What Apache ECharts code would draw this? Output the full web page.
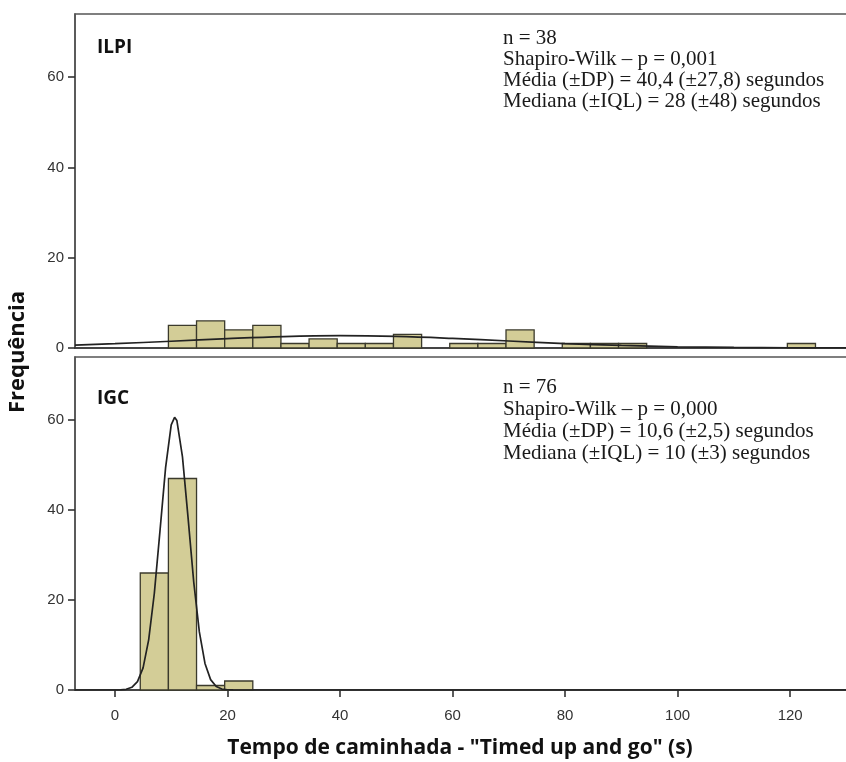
<!DOCTYPE html>
<html>
<head>
<meta charset="utf-8">
<script src="https://cdn.jsdelivr.net/npm/echarts@6/dist/echarts.min.js"></script>
<style>
html,body{margin:0;padding:0;background:#fff;overflow:hidden;}
#c{width:846px;height:762px;}
</style>
</head>
<body>
<div id="c"></div>
<script>
// ---- data ----
var xTicks = [0, 20, 40, 60, 80, 100, 120];
var yTicks = [0, 20, 40, 60];

// ILPI histogram (bin lower edge, bin upper edge, count)
var ilpiBinLo = [9.5, 14.5, 19.5, 24.5, 29.5, 34.5, 39.5, 44.5, 49.5, 59.5, 64.5, 69.5, 79.5, 84.5, 89.5, 119.5];
var ilpiBinHi = [14.5, 19.5, 24.5, 29.5, 34.5, 39.5, 44.5, 49.5, 54.5, 64.5, 69.5, 74.5, 84.5, 89.5, 94.5, 124.5];
var ilpiCounts = [5, 6, 4, 5, 1, 2, 1, 1, 3, 1, 1, 4, 1, 1, 1, 1];

// IGC histogram
var igcBinLo = [4.5, 9.5, 14.5, 19.5];
var igcBinHi = [9.5, 14.5, 19.5, 24.5];
var igcCounts = [26, 47, 1, 2];

// fitted normal curves
var ilpiCurveX = [-7.1, 0, 10, 20, 30, 40, 50, 60, 70, 80, 90, 100, 110, 120, 134];
var ilpiCurveY = [0.64, 0.95, 1.5, 2.08, 2.54, 2.73, 2.57, 2.13, 1.55, 0.99, 0.56, 0.27, 0.12, 0.05, 0.01];
var igcCurveX = [-7.1, 0, 1, 2, 3, 4, 5, 6, 7, 8, 9, 10, 10.6, 11, 12, 13, 14, 15, 16, 17, 18, 19, 20, 21, 22, 134];
var igcCurveY = [0, 0, 0.04, 0.16, 0.6, 1.86, 4.93, 11.2, 21.5, 35.3, 49.4, 58.9, 60.6, 59.9, 51.8, 38.2, 24.0, 12.9, 5.9, 2.3, 0.76, 0.21, 0.05, 0.01, 0, 0];

var ilpiStats = ["n = 38", "Shapiro-Wilk \u2013 p = 0,001", "M\u00e9dia (\u00b1DP) = 40,4 (\u00b127,8) segundos", "Mediana (\u00b1IQL) = 28 (\u00b148) segundos"];
var igcStats = ["n = 76", "Shapiro-Wilk \u2013 p = 0,000", "M\u00e9dia (\u00b1DP) = 10,6 (\u00b12,5) segundos", "Mediana (\u00b1IQL) = 10 (\u00b13) segundos"];

// ---- build ----
function zip3(a, b, c) { return a.map(function (v, i) { return [v, b[i], c[i]]; }); }
function zip2(a, b) { return a.map(function (v, i) { return [v, b[i]]; }); }

var BAR_FILL = '#d3cd97';
var BAR_EDGE = '#3b3a2c';
var AXIS_COL = '#555';
var TICK_FONT = '"Liberation Sans", Arial, sans-serif';

function renderBar(params, api) {
  var p0 = api.coord([api.value(0), api.value(2)]);
  var p1 = api.coord([api.value(1), 0]);
  return {
    type: 'rect',
    shape: { x: p0[0], y: p0[1], width: p1[0] - p0[0], height: p1[1] - p0[1] },
    style: { fill: BAR_FILL, stroke: BAR_EDGE, lineWidth: 1.3 }
  };
}

var XMIN = -7.1, XMAX = 133.3, YMAX = 74;

function xAxis(idx, showLabels) {
  return {
    type: 'value', gridIndex: idx, min: XMIN, max: XMAX,
    axisLine: { show: true, onZero: false, lineStyle: { color: '#333', width: 1.6 } },
    axisTick: { show: showLabels, length: 7, lineStyle: { color: '#333', width: 1.6 }, customValues: xTicks },
    axisLabel: { show: showLabels, customValues: xTicks, color: '#333', fontFamily: TICK_FONT, fontSize: 15, margin: 18 },
    splitLine: { show: false }
  };
}
function yAxis(idx) {
  return {
    type: 'value', gridIndex: idx, min: 0, max: YMAX,
    axisLine: { show: true, onZero: false, lineStyle: { color: AXIS_COL, width: 1.6 } },
    axisTick: { show: true, length: 7, lineStyle: { color: '#333', width: 1.6 }, customValues: yTicks },
    axisLabel: { customValues: yTicks, color: '#333', fontFamily: TICK_FONT, fontSize: 15, margin: 11 },
    splitLine: { show: false }
  };
}

function statTexts(lines, yStart, step) {
  return lines.map(function (t, i) {
    return {
      type: 'text', left: 503, top: yStart + i * step,
      style: { text: t, fill: '#1a1a1a', font: '21px "Liberation Serif", "Times New Roman", serif' }
    };
  });
}

var chart = echarts.init(document.getElementById('c'), null, { renderer: 'canvas' });
chart.setOption({
  animation: false,
  backgroundColor: '#fff',
  grid: [
    { left: 75, top: 14, width: 790, height: 334, outerBoundsMode: 'none', containLabel: false, show: true, borderColor: AXIS_COL, borderWidth: 1.6, backgroundColor: 'transparent' },
    { left: 75, top: 357, width: 790, height: 333, outerBoundsMode: 'none', containLabel: false, show: true, borderColor: AXIS_COL, borderWidth: 1.6, backgroundColor: 'transparent' }
  ],
  xAxis: [xAxis(0, false), xAxis(1, true)],
  yAxis: [yAxis(0), yAxis(1)],
  series: [
    { type: 'custom', xAxisIndex: 0, yAxisIndex: 0, renderItem: renderBar, data: zip3(ilpiBinLo, ilpiBinHi, ilpiCounts), encode: { x: [0, 1], y: 2 } },
    { type: 'line', xAxisIndex: 0, yAxisIndex: 0, data: zip2(ilpiCurveX, ilpiCurveY), smooth: 0.4, showSymbol: false, lineStyle: { color: '#222', width: 1.7 } },
    { type: 'custom', xAxisIndex: 1, yAxisIndex: 1, renderItem: renderBar, data: zip3(igcBinLo, igcBinHi, igcCounts), encode: { x: [0, 1], y: 2 } },
    { type: 'line', xAxisIndex: 1, yAxisIndex: 1, data: zip2(igcCurveX, igcCurveY), smooth: false, showSymbol: false, lineStyle: { color: '#222', width: 1.7 } }
  ],
  graphic: [
    { type: 'text', left: 97, top: 38, style: { text: 'ILPI', fill: '#111', font: 'bold 19px "Open Sans", sans-serif' } },
    { type: 'text', left: 97, top: 389, style: { text: 'IGC', fill: '#111', font: 'bold 19px "Open Sans", sans-serif' } },
    { type: 'text', x: 18, y: 352, rotation: Math.PI / 2, style: { text: 'Frequ\u00eancia', fill: '#111', font: 'bold 22px "Open Sans", sans-serif', align: 'center', verticalAlign: 'middle' } },
    { type: 'text', x: 460, y: 748, style: { text: 'Tempo de caminhada - "Timed up and go" (s)', fill: '#111', font: 'bold 21px "Open Sans", sans-serif', align: 'center', verticalAlign: 'middle' } }
  ].concat(statTexts(ilpiStats, 28, 21)).concat(statTexts(igcStats, 377, 22))
});
</script>
</body>
</html>
